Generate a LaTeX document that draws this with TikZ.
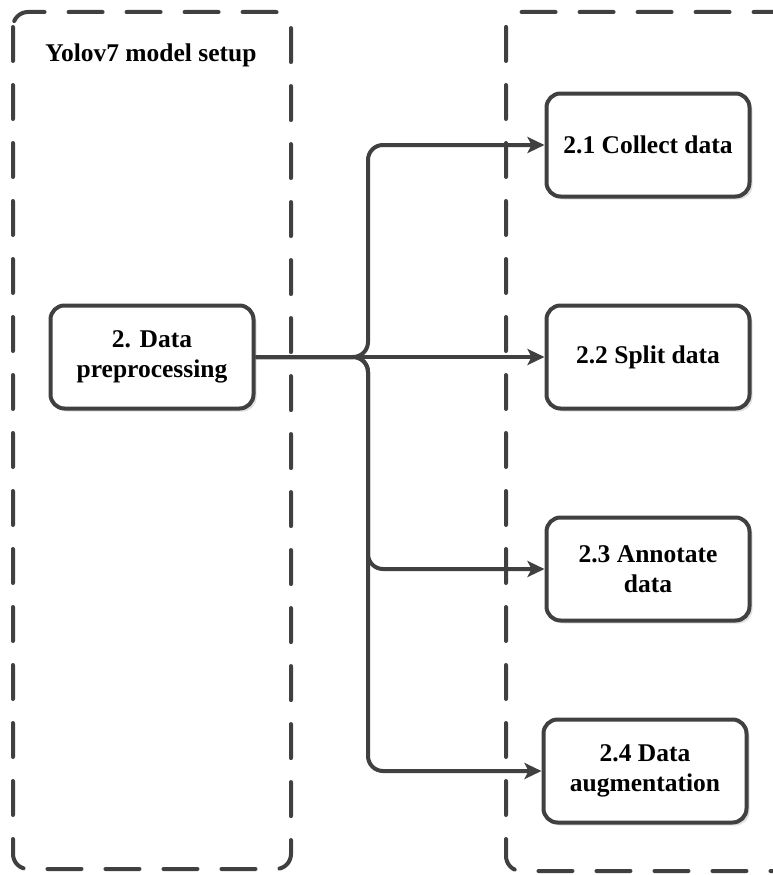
\documentclass[tikz,border=0pt]{standalone}
\usepackage{fontspec}
\setmainfont{Liberation Serif}[BoldFont={Liberation Serif Bold}]
\usetikzlibrary{arrows.meta,shadows}
\definecolor{linegray}{HTML}{404040}
\begin{document}
\begin{tikzpicture}[x=1pt,y=-1pt,
  ink/.style={draw=linegray, line width=4pt},
  group/.style={ink, dash pattern=on 34pt off 24pt, line cap=round, rounded corners=15pt},
  label/.style={font=\bfseries\fontsize{25.5}{30}\selectfont, align=center},
  stepbox/.style={ink, label, fill=white, rounded corners=14pt,
    minimum width=203pt, minimum height=103pt, inner sep=0pt,
    drop shadow={shadow xshift=3pt, shadow yshift=-3pt, fill=black, opacity=0.12}},
  link/.style={ink, rounded corners=15pt, -{Stealth[length=17pt,width=16pt,inset=4pt]}}]

\useasboundingbox (0,0) rectangle (773,875);
\clip (0,0) rectangle (773,875);

% group frames
\draw[group] (13,12) rectangle (291,869);
\draw[group] (506,12) rectangle (820,871);
\node[label, anchor=base] (title) at (151,62) {Yolov7 model setup};

% steps
\node[stepbox] (dp) at (152,357) {2. Data\\preprocessing};
\node[stepbox] (b1) at (648,145) {2.1 Collect data};
\node[stepbox] (b2) at (648,357) {2.2 Split data};
\node[stepbox] (b3) at (648,569) {2.3 Annotate\\data};
\node[stepbox] (b4) at (645,771) {2.4 Data\\augmentation};

% connectors through the bus
\coordinate (bus) at (368,357);
\draw[link] (dp.east) -- (bus) |- (b1.west);
\draw[link] (dp.east) -- (b2.west);
\draw[link] (dp.east) -- (bus) |- (b3.west);
\draw[link] (dp.east) -- (bus) |- (b4.west);
\end{tikzpicture}
\end{document}
